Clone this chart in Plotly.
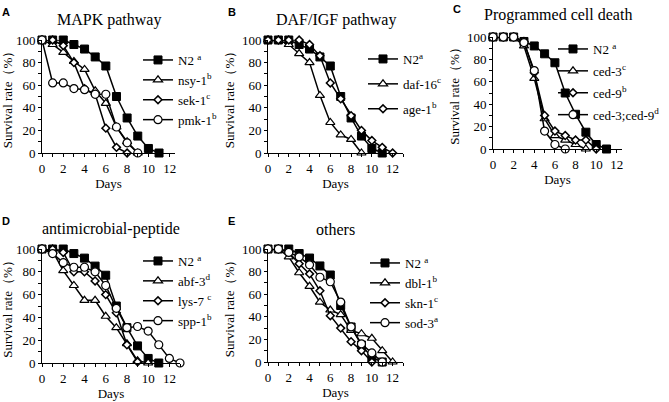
import plotly.graph_objects as go

# ---------------- data ----------------
n2_days = [0, 1, 2, 3, 4, 5, 6, 7, 8, 9, 10, 11]
n2_surv = [100, 100, 100, 96, 92, 85, 77, 50, 31, 15, 4, 0]

# A: MAPK pathway
nsy1_days = [0, 1, 2, 3, 4, 5, 6, 7, 8, 9]
nsy1_surv = [100, 96, 89, 81, 74, 55, 44, 23, 10, 0]
sek1_days = [0, 1, 2, 3, 4, 5, 6, 7, 8]
sek1_surv = [100, 100, 95, 80, 57, 52, 22, 5, 0]
pmk1_days = [0, 1, 2, 3, 4, 5, 6, 7, 8, 9]
pmk1_surv = [100, 62, 62, 57, 56, 52, 52, 23, 9, 0]

# B: DAF/IGF pathway
daf16_days = [0, 1, 2, 3, 4, 5, 6, 7, 8, 9]
daf16_surv = [100, 100, 96, 88, 80, 51, 27, 16, 12, 0]
age1_days = [0, 1, 2, 3, 4, 5, 6, 7, 8, 9, 10, 11, 12]
age1_surv = [100, 100, 100, 100, 96, 86, 62, 48, 33, 20, 11, 5, 0]

# C: Programmed cell death
ced3_days = [0, 1, 2, 3, 4, 5, 6, 7, 8, 9]
ced3_surv = [100, 100, 100, 92, 63, 27, 12, 8, 4, 0]
ced9_days = [0, 1, 2, 3, 4, 5, 6, 7, 8, 9, 10]
ced9_surv = [100, 100, 100, 96, 68, 30, 16, 12, 8, 8, 0]
ced39_days = [0, 1, 2, 3, 4, 5, 6, 7]
ced39_surv = [100, 100, 100, 95, 70, 16, 4, 0]

# D: antimicrobial-peptide
abf3_days = [0, 1, 2, 3, 4, 5, 6, 7, 8, 9, 10]
abf3_surv = [100, 98, 81, 68, 55, 55, 41, 31, 17, 2, 0]
lys7_days = [0, 1, 2, 3, 4, 5, 6, 7, 8, 9]
lys7_surv = [100, 100, 97, 80, 80, 72, 60, 44, 16, 1]
spp1_days = [0, 1, 2, 3, 4, 5, 6, 7, 8, 9, 10, 11, 12, 13]
spp1_surv = [100, 96, 88, 84, 84, 80, 68, 48, 31, 32, 28, 16, 4, 0]

# E: others
dbl1_days = [0, 1, 2, 3, 4, 5, 6, 7, 8, 9, 10, 11, 12]
dbl1_surv = [100, 100, 93, 79, 67, 53, 46, 42, 28, 25, 21, 10, 0]
skn1_days = [0, 1, 2, 3, 4, 5, 6, 7, 8, 9, 10]
skn1_surv = [100, 100, 97, 87, 78, 63, 41, 30, 18, 10, 0]
sod3_days = [0, 1, 2, 3, 4, 5, 6, 7, 8, 9, 10, 11]
sod3_surv = [100, 100, 97, 93, 86, 75, 71, 53, 31, 16, 8, 0]

panel_titles = ["MAPK pathway", "DAF/IGF pathway", "Programmed cell death",
                "antimicrobial-peptide", "others"]
panel_letters = ["A", "B", "C", "D", "E"]
x_ticks = [0, 2, 4, 6, 8, 10, 12]
y_ticks = [0, 20, 40, 60, 80, 100]

# ---------------- styles ----------------
SERIF = "Liberation Serif, Times New Roman, serif"
W, H = 669, 402

sq = dict(symbol="square", size=8, color="black", line=dict(color="black", width=1))
tri = dict(symbol="triangle-up", size=8, color="white", line=dict(color="black", width=1.2))
dia = dict(symbol="diamond", size=6, color="white", line=dict(color="black", width=1.5))
cir = dict(symbol="circle", size=8, color="white", line=dict(color="black", width=1.2))

panels = [
    [(n2_days, n2_surv, "N2 <sup>a</sup>", sq), (nsy1_days, nsy1_surv, "nsy-1<sup>b</sup>", tri),
     (sek1_days, sek1_surv, "sek-1<sup>c</sup>", dia), (pmk1_days, pmk1_surv, "pmk-1<sup>b</sup>", cir)],
    [(n2_days, n2_surv, "N2<sup>a</sup>", sq), (daf16_days, daf16_surv, "daf-16<sup>c</sup>", tri),
     (age1_days, age1_surv, "age-1<sup>b</sup>", dia)],
    [(n2_days, n2_surv, "N2 <sup>a</sup>", sq), (ced3_days, ced3_surv, "ced-3<sup>c</sup>", tri),
     (ced9_days, ced9_surv, "ced-9<sup>b</sup>", dia), (ced39_days, ced39_surv, "ced-3;ced-9<sup>d</sup>", cir)],
    [(n2_days, n2_surv, "N2 <sup>a</sup>", sq), (abf3_days, abf3_surv, "abf-3<sup>d</sup>", tri),
     (lys7_days, lys7_surv, "lys-7 <sup>c</sup>", dia), (spp1_days, spp1_surv, "spp-1<sup>b</sup>", cir)],
    [(n2_days, n2_surv, "N2 <sup>a</sup>", sq), (dbl1_days, dbl1_surv, "dbl-1<sup>b</sup>", tri),
     (skn1_days, skn1_surv, "skn-1<sup>c</sup>", dia), (sod3_days, sod3_surv, "sod-3<sup>a</sup>", cir)],
]

# pixel geometry of each plot area: (x0, x1, ytop, ybottom), x range max, title offset
geom = [
    (42, 175, 40, 153, 12.5, 20),
    (268, 403, 40, 153, 13, 20),
    (493, 622, 37, 149, 12.5, 22),
    (42, 180, 249, 363, 13, 20),
    (268, 403, 249, 362, 13, 20),
]
# legend placement (pixel left, pixel top, group gap)
leg_pos = [(138, 45, 0), (363, 44, 5), (553, 34, 2), (138, 246, 0), (365, 248, 0)]

fig = go.Figure()
layout = dict(
    width=W, height=H, margin=dict(l=0, r=0, t=0, b=0, autoexpand=False),
    paper_bgcolor="white", plot_bgcolor="white",
    font=dict(family=SERIF, size=12, color="black"),
    annotations=[],
)

for i, (series, (x0, x1, yt, yb, xmax, toff)) in enumerate(zip(panels, geom)):
    k = "" if i == 0 else str(i + 1)
    lg = "legend" if i == 0 else "legend" + str(i + 1)
    for j, (d, s, name, mk) in enumerate(series):
        fig.add_trace(go.Scatter(
            x=d, y=s, name=name, mode="lines+markers",
            line=dict(color="black", width=1.5), marker=mk,
            xaxis="x" + k, yaxis="y" + k, cliponaxis=False,
            legend=lg, legendgroup=f"g{i}_{j}",
        ))
    axfont = dict(family=SERIF, size=13, color="black")
    layout["xaxis" + k] = dict(
        domain=[x0 / W, x1 / W], anchor="y" + k, range=[0, xmax],
        tickvals=x_ticks, ticks="outside", ticklen=3, tickcolor="black",
        minor=dict(dtick=1, ticks="outside", ticklen=3, tickcolor="black"),
        showline=True, linecolor="black", linewidth=1, showgrid=False, zeroline=False,
        tickfont=axfont, automargin=False,
        title=dict(text="Days", font=dict(family=SERIF, size=13, color="black"), standoff=4),
    )
    layout["yaxis" + k] = dict(
        domain=[1 - yb / H, 1 - yt / H], anchor="x" + k, range=[0, 100],
        tickvals=y_ticks, ticks="outside", ticklen=3, tickcolor="black",
        minor=dict(dtick=10, ticks="outside", ticklen=3, tickcolor="black"),
        showline=True, linecolor="black", linewidth=1, showgrid=False, zeroline=False,
        tickfont=axfont, automargin=False,
        title=dict(text="Survival rate（%）", font=dict(family=SERIF, size=13, color="black"), standoff=4),
    )
    lx, ly, gap = leg_pos[i]
    layout[lg] = dict(
        x=lx / W, y=1 - ly / H, xanchor="left", yanchor="top",
        bgcolor="rgba(0,0,0,0)", borderwidth=0, tracegroupgap=gap,
        font=dict(family=SERIF, size=13, color="black"), itemwidth=30,
    )
    # panel title
    layout["annotations"].append(dict(
        text=panel_titles[i], x=(x0 + x1) / 2 / W, y=1 - (yt - toff) / H,
        xref="paper", yref="paper", showarrow=False,
        font=dict(family=SERIF, size=16, color="black"), xanchor="center", yanchor="middle",
    ))
    layout["annotations"].append(dict(
        text="<b>" + panel_letters[i] + "</b>", x=(x0 - 42) / W, y=1 - (yt - 28) / H,
        xref="paper", yref="paper", showarrow=False,
        font=dict(family="Liberation Sans", size=11, color="black"), xanchor="left", yanchor="middle",
    ))

fig.update_layout(**layout)
fig.write_html("out.html", config={"displayModeBar": False},
               post_script="document.body.style.margin='0';document.body.style.overflow='hidden';")
